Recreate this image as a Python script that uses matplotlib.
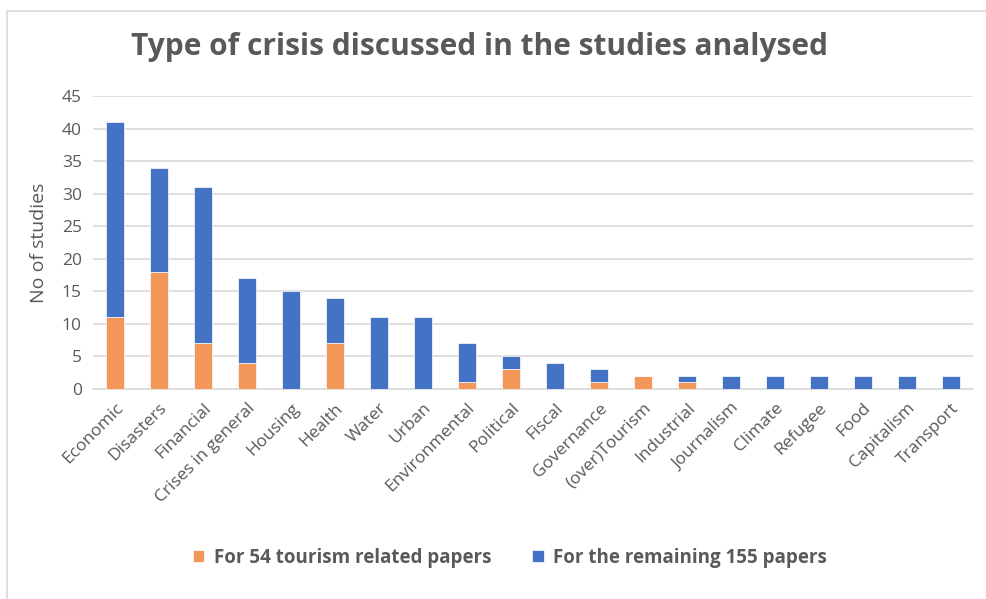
import numpy as np
import matplotlib.pyplot as plt
from matplotlib.patches import Rectangle

categorias = ["Economic", "Disasters", "Financial", "Crises in general", "Housing",
              "Health", "Water", "Urban", "Environmental", "Political", "Fiscal",
              "Governance", "(over)Tourism", "Industrial", "Journalism", "Climate",
              "Refugee", "Food", "Capitalism", "Transport"]
turismo = [11, 18, 7, 4, 0, 7, 0, 0, 1, 3, 0, 1, 2, 1, 0, 0, 0, 0, 0, 0]
restantes = [30, 16, 24, 13, 15, 7, 11, 11, 6, 2, 4, 2, 0, 1, 2, 2, 2, 2, 2, 2]

cor_laranja = "#F39659"
cor_azul = "#4472C4"
cinza = "#595959"
fonte = ["Open Sans", "DejaVu Sans"]

fig = plt.figure(figsize=(9.87, 5.99), dpi=100)
ax = fig.add_axes([93/987, 1 - 389/599, 880/987, 293/599])

# moldura do gráfico (só topo e esquerda aparecem)
fig.patches.append(Rectangle((7/987, -0.1), 1.2, 1 - 11/599 + 0.1, transform=fig.transFigure,
                             fill=False, edgecolor="#D9D9D9", linewidth=1.2))

x = np.arange(len(categorias))
ax.bar(x, turismo, width=0.39, color=cor_laranja, edgecolor="white", linewidth=0.5,
       label="For 54 tourism related papers", zorder=3)
ax.bar(x, restantes, width=0.39, bottom=turismo, color=cor_azul, edgecolor="white",
       linewidth=0.5, label="For the remaining 155 papers", zorder=3)

ax.set_xlim(-0.5, len(categorias) - 0.5)
ax.set_ylim(0, 45)
ax.set_yticks(range(0, 46, 5))
ax.yaxis.grid(True, color="#D9D9D9", linewidth=1.2, zorder=0)
ax.set_axisbelow(True)
for s in ["top", "right", "left"]:
    ax.spines[s].set_visible(False)
ax.spines["bottom"].set_color("#D9D9D9")
ax.spines["bottom"].set_linewidth(1.2)
ax.tick_params(axis="both", length=0, colors=cinza, labelsize=12.5, pad=8)
ax.set_xticks(x)
ax.set_xticklabels(categorias, rotation=45, ha="right", va="top", rotation_mode="anchor",
                   family=fonte)
for t in ax.get_yticklabels():
    t.set_family(fonte)

ax.set_ylabel("No of studies", color=cinza, fontsize=14, family=fonte, labelpad=10)

fig.text(480/987, 1 - 47/599, "Type of crisis discussed in the studies analysed",
         ha="center", va="center", fontsize=21.5, fontweight="bold", color=cinza, family=fonte)

leg = fig.legend(loc="center", bbox_to_anchor=(510/987, 1 - 558/599), ncol=2, frameon=False,
                 prop={"family": fonte, "weight": "bold", "size": 13.5},
                 handlelength=0.6, handleheight=0.6, columnspacing=2.2, handletextpad=0.5)
for t in leg.get_texts():
    t.set_color(cinza)

fig.savefig("out.png", dpi=100)
